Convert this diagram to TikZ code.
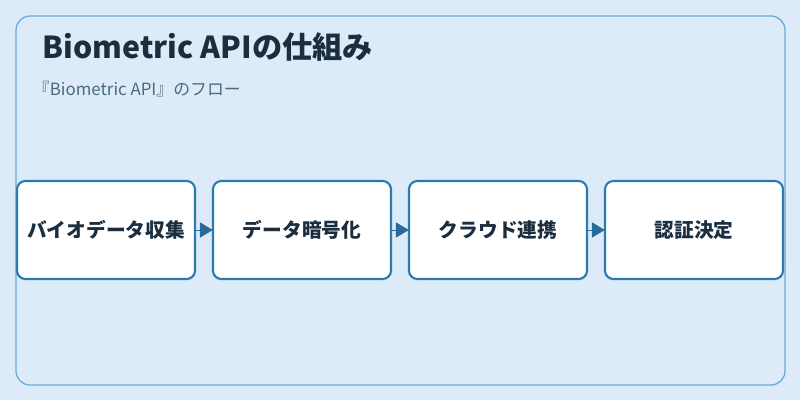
\documentclass[tikz,border=0pt]{standalone}
\usepackage{fontspec}
\setmainfont{Noto Sans CJK JP}
\usetikzlibrary{positioning, arrows.meta}
\definecolor{bgblue}{HTML}{DCEBF7}
\definecolor{frameblue}{HTML}{6AAAD6}
\definecolor{boxblue}{HTML}{2A7AB0}
\definecolor{arrowblue}{HTML}{2A6A9A}
\definecolor{titlecol}{HTML}{1A2E3F}
\definecolor{subcol}{HTML}{4A6A80}
\tikzset{
  stepbox/.style={draw=boxblue, line width=1.5pt, fill=white, rounded corners=6pt,
    minimum width=4.45cm, minimum height=2.45cm, inner sep=0pt,
    font=\bfseries\fontsize{14}{16}\selectfont, text=titlecol},
  flow/.style={draw=arrowblue, -{Triangle[length=0.32cm,width=0.38cm]}, line width=0.4pt, shorten >=-0.02cm}
}
\begin{document}
\begin{tikzpicture}[x=0.025cm,y=-0.025cm]
	\useasboundingbox[fill=bgblue] (0,0) rectangle (800,400);
	\draw[frameblue, line width=0.9pt, fill=bgblue, rounded corners=10pt] (16,16) rectangle (785,385);
	\node[anchor=west, font=\bfseries\fontsize{21.5}{25}\selectfont, text=titlecol] (title) at (38,47) {Biometric APIの仕組み};
	\node[anchor=west, font=\fontsize{12}{14}\selectfont, text=subcol] (sub) at (28,89) {『Biometric API』のフロー};
	
	\node[stepbox] (s1) at (106,230) {バイオデータ収集};
	\node[stepbox] (s2) at (302,230) {データ暗号化};
	\node[stepbox] (s3) at (498,230) {クラウド連携};
	\node[stepbox] (s4) at (694,230) {認証決定};
	
	\draw[flow] (s1.east) -- (s2.west);
	\draw[flow] (s2.east) -- (s3.west);
	\draw[flow] (s3.east) -- (s4.west);
\end{tikzpicture}
\end{document}
